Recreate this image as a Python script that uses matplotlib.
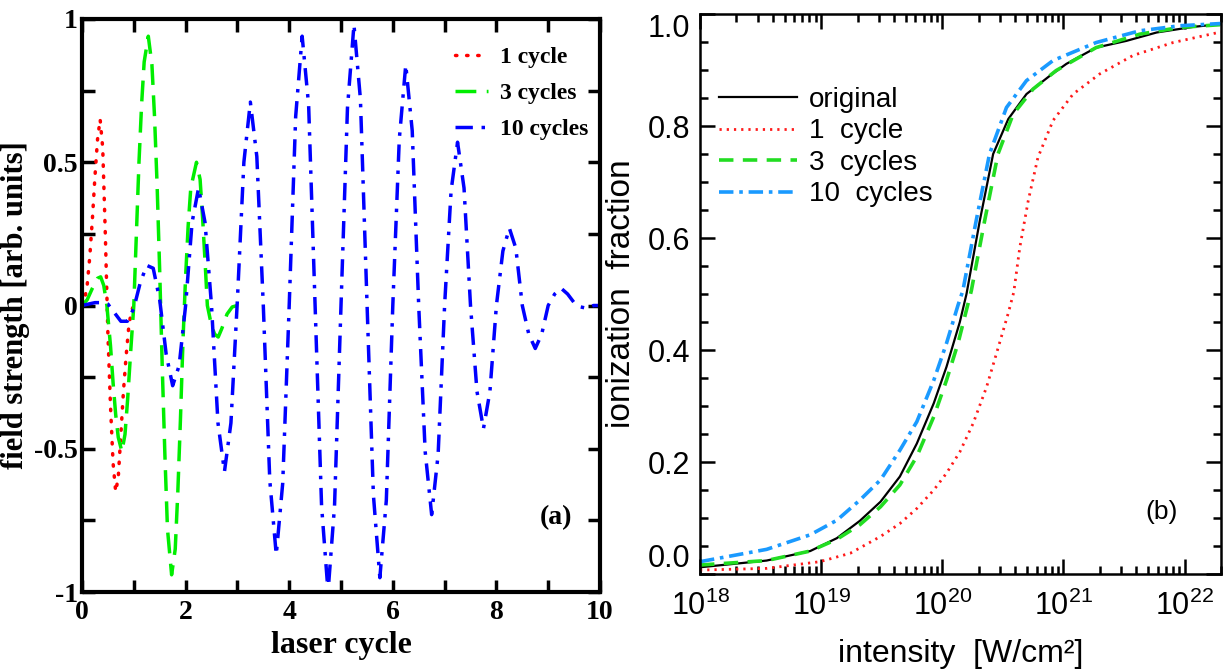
import numpy as np
import matplotlib
matplotlib.use("Agg")
import matplotlib.pyplot as plt
from matplotlib.ticker import MultipleLocator, LogLocator, NullFormatter

plt.rcParams['axes.unicode_minus'] = False

# ---- panel (a): field strength vs laser cycle ----
x_1cyc = [0, 0.05, 0.1, 0.15, 0.2, 0.25, 0.3, 0.35, 0.4, 0.45, 0.5, 0.55, 0.6,
          0.65, 0.7, 0.75, 0.8, 0.85, 0.9, 0.95, 1.0]
y_1cyc = [0, 0.02, 0.07, 0.17, 0.30, 0.45, 0.58, 0.65, 0.55, 0.25, -0.10, -0.35,
          -0.55, -0.65, -0.60, -0.45, -0.30, -0.18, -0.08, -0.02, 0.0]

x_3cyc = [0, 0.1, 0.2, 0.3, 0.36, 0.42, 0.48, 0.55, 0.6, 0.65, 0.7, 0.77, 0.83,
          0.88, 0.94, 1.0, 1.05, 1.1, 1.15, 1.2, 1.28, 1.35, 1.4, 1.45, 1.5, 1.55,
          1.6, 1.65, 1.73, 1.8, 1.85, 1.9, 1.95, 2.0, 2.05, 2.1, 2.21, 2.28, 2.33,
          2.38, 2.42, 2.5, 2.56, 2.63, 2.7, 2.8, 2.9, 3.0]
y_3cyc = [0, 0.02, 0.06, 0.095, 0.10, 0.07, 0.0, -0.14, -0.27, -0.38, -0.46, -0.51,
          -0.45, -0.33, -0.16, 0.0, 0.25, 0.50, 0.70, 0.85, 0.94, 0.84, 0.66, 0.42,
          0.12, -0.22, -0.52, -0.78, -0.94, -0.85, -0.65, -0.40, -0.12, 0.10, 0.28,
          0.41, 0.50, 0.44, 0.30, 0.14, 0.0, -0.07, -0.10, -0.11, -0.08, -0.03,
          -0.005, 0.0]

x_10cyc = [0, 0.125, 0.25, 0.375, 0.5, 0.625, 0.75, 0.875, 1.0, 1.125, 1.25, 1.375,
           1.5, 1.625, 1.75, 1.875, 2.0, 2.125, 2.25, 2.375, 2.5, 2.625, 2.75, 2.875,
           3.0, 3.125, 3.25, 3.375, 3.5, 3.625, 3.75, 3.875, 4.0, 4.125, 4.25, 4.375,
           4.5, 4.625, 4.75, 4.875, 5.0, 5.125, 5.25, 5.375, 5.5, 5.625, 5.75, 5.875,
           6.0, 6.125, 6.25, 6.375, 6.5, 6.625, 6.75, 6.875, 7.0, 7.125, 7.25, 7.375,
           7.5, 7.625, 7.75, 7.875, 8.0, 8.125, 8.25, 8.375, 8.5, 8.625, 8.75, 8.875,
           9.0, 9.125, 9.25, 9.375, 9.5, 9.625, 9.75, 9.875, 10.0]
y_10cyc = [0, 0.005, 0.01, 0.01, 0.005, -0.025, -0.055, -0.055, -0.01, 0.08, 0.14,
           0.13, 0.02, -0.17, -0.28, -0.21, 0.0, 0.29, 0.41, 0.29, 0.0, -0.41, -0.58,
           -0.41, 0.02, 0.50, 0.71, 0.52, 0.0, -0.61, -0.87, -0.62, 0.0, 0.66, 0.94,
           0.70, 0.0, -0.70, -1.0, -0.70, 0.0, 0.69, 0.98, 0.72, 0.02, -0.66, -0.95,
           -0.68, 0.0, 0.58, 0.84, 0.61, 0.0, -0.51, -0.73, -0.52, 0.0, 0.40, 0.57,
           0.41, 0.0, -0.30, -0.43, -0.30, 0.0, 0.19, 0.27, 0.20, 0.0, -0.10, -0.15,
           -0.10, 0.0, 0.04, 0.06, 0.04, 0.01, -0.005, -0.01, 0.0, 0.0]

# ---- panel (b): ionization fraction vs intensity (log10 W/cm^2) ----
logI_orig = [18.0, 18.55, 18.91, 19.13, 19.32, 19.49, 19.65, 19.79, 19.93, 20.035,
             20.145, 20.2, 20.31, 20.42, 20.545, 20.695, 20.89, 21.025, 21.27, 21.52,
             21.77, 22.07, 22.3]
frac_orig = [0.012, 0.024, 0.041, 0.064, 0.095, 0.129, 0.174, 0.233, 0.305, 0.37,
             0.45, 0.50, 0.631, 0.75, 0.8125, 0.857, 0.89, 0.911, 0.94, 0.952,
             0.967, 0.977, 0.982]

logI_1 = [18.0, 18.55, 18.99, 19.24, 19.49, 19.65, 19.79, 19.93, 20.035, 20.145,
          20.255, 20.366, 20.46, 20.545, 20.59, 20.64, 20.71, 20.79, 20.915, 21.08,
          21.3, 21.575, 21.905, 22.3]
frac_1 = [0.007, 0.01, 0.022, 0.037, 0.067, 0.09, 0.117, 0.15, 0.18, 0.218, 0.269,
          0.334, 0.403, 0.466, 0.503, 0.583, 0.667, 0.744, 0.81, 0.857, 0.893,
          0.926, 0.949, 0.968]

logI_3 = [18.0, 18.55, 18.91, 19.13, 19.32, 19.49, 19.65, 19.79, 19.93, 20.035,
          20.13, 20.24, 20.35, 20.46, 20.585, 20.75, 20.94, 21.27, 21.63, 21.96, 22.3]
frac_3 = [0.016, 0.024, 0.041, 0.062, 0.088, 0.12, 0.159, 0.21, 0.281, 0.346, 0.412,
          0.506, 0.631, 0.75, 0.821, 0.866, 0.899, 0.94, 0.964, 0.976, 0.981]

logI_10 = [18.0, 18.55, 18.91, 19.13, 19.32, 19.49, 19.65, 19.79, 19.93, 20.035,
           20.13, 20.17, 20.28, 20.39, 20.53, 20.695, 20.915, 21.27, 21.63, 21.96, 22.3]
frac_10 = [0.022, 0.044, 0.07, 0.096, 0.132, 0.168, 0.221, 0.272, 0.346, 0.412,
           0.48, 0.506, 0.631, 0.75, 0.833, 0.881, 0.917, 0.949, 0.97, 0.979, 0.983]

frac_ticks = [0.0, 0.2, 0.4, 0.6, 0.8, 1.0]

serif = ['Liberation Serif', 'DejaVu Serif']
narrow = ['Liberation Sans Narrow', 'Liberation Sans', 'DejaVu Sans']

fig = plt.figure(figsize=(12.23, 6.69), dpi=100)

# left panel
ax1 = fig.add_axes([82/1223, 77/669, 518/1223, 573/669])
ax1.plot(x_1cyc, y_1cyc, color='#ff0000', lw=2.5, linestyle=(0, (0.4, 2.8)),
         dash_capstyle='round', label='1 cycle')
ax1.plot(x_3cyc, y_3cyc, color='#00ee00', lw=2.5, linestyle=(0, (6, 3)),
         label='3 cycles')
ax1.plot(x_10cyc, y_10cyc, color='#0000ff', lw=2.5, linestyle=(0, (5, 2.5, 1, 2.5)),
         label='10 cycles')
ax1.set_xlim(0, 10)
ax1.set_ylim(-1, 1)
ax1.xaxis.set_major_locator(MultipleLocator(2))
ax1.xaxis.set_minor_locator(MultipleLocator(1))
ax1.yaxis.set_minor_locator(MultipleLocator(0.25))
ax1.set_yticks([-1, -0.5, 0, 0.5, 1])
ax1.set_yticklabels(['-1', '-0.5', '0', '0.5', '1'])
ax1.tick_params(which='both', direction='in', top=True, right=True, width=2.5,
                length=9)
ax1.tick_params(axis='y', pad=3)
ax1.tick_params(axis='x', pad=6)
for lab in ax1.get_xticklabels() + ax1.get_yticklabels():
    lab.set_fontfamily(serif)
    lab.set_fontweight('bold')
    lab.set_fontsize(20)
for sp in ax1.spines.values():
    sp.set_linewidth(3)
ax1.set_xlabel('laser cycle', fontfamily=serif, fontweight='bold', fontsize=23,
               labelpad=4)
ax1.set_ylabel('field strength [arb. units]', fontfamily=serif, fontweight='bold',
               fontsize=22, labelpad=3)
ax1.text(0.915, 0.13, '(a)', transform=ax1.transAxes, fontfamily=serif,
         fontweight='bold', fontsize=20, ha='center', va='center')
ax1.legend(loc='upper right', bbox_to_anchor=(1.0, 0.972), frameon=False,
           prop={'family': serif, 'weight': 'bold', 'size': 17},
           handlelength=1.4, handletextpad=0.5, labelspacing=0.6,
           borderaxespad=0.1)

# right panel
ax2 = fig.add_axes([700/1223, 95/669, 521/1223, 560/669])
ax2.plot(10.0 ** np.array(logI_orig), frac_orig, color='black', lw=1.6,
         label='original')
ax2.plot(10.0 ** np.array(logI_1), frac_1, color='#ff1a1a', lw=2,
         linestyle=(0, (0.8, 1.8)), label='1  cycle')
ax2.plot(10.0 ** np.array(logI_3), frac_3, color='#22dd22', lw=2.6,
         linestyle=(0, (4, 2.6)), label='3  cycles')
ax2.plot(10.0 ** np.array(logI_10), frac_10, color='#1a9aff', lw=2.6,
         linestyle=(0, (4, 1.6, 1, 1.6)), label='10  cycles')
ax2.set_xscale('log')
ax2.set_xlim(1e18, 2e22)
ax2.set_ylim(0, 1.0)
ax2.xaxis.set_major_locator(LogLocator(base=10, numticks=10))
ax2.xaxis.set_minor_locator(LogLocator(base=10, subs=np.arange(2, 10), numticks=20))
ax2.xaxis.set_minor_formatter(NullFormatter())
ax2.yaxis.set_minor_locator(MultipleLocator(0.05))
ax2.set_yticks(frac_ticks)
ax2.set_yticklabels(['%.1f' % v for v in frac_ticks])
ax2.tick_params(which='both', direction='in', top=True, right=True, width=1.8)
ax2.tick_params(which='major', length=11)
ax2.tick_params(which='minor', length=6)
ax2.tick_params(axis='x', pad=12)
ax2.tick_params(axis='y', pad=7)
for lab in ax2.get_xticklabels() + ax2.get_yticklabels():
    lab.set_fontfamily(narrow)
    lab.set_fontsize(22)
ylabs = ax2.get_yticklabels()
ylabs[0].set_va('bottom')
ylabs[-1].set_va('top')
for sp in ax2.spines.values():
    sp.set_linewidth(1.8)
ax2.set_xlabel('intensity  [W/cm²]', fontfamily=narrow, fontsize=23, labelpad=12)
ax2.set_ylabel('ionization  fraction', fontfamily=narrow, fontsize=24, labelpad=8)
ax2.text(0.885, 0.11, '(b)', transform=ax2.transAxes, fontfamily=narrow,
         fontsize=19, ha='center', va='center')
ax2.legend(loc='upper left', bbox_to_anchor=(0.015, 0.89), frameon=False,
           prop={'family': narrow, 'size': 20}, handlelength=2.8,
           handletextpad=0.45, labelspacing=0.2, borderaxespad=0.0)

fig.savefig('out.png', dpi=100)
